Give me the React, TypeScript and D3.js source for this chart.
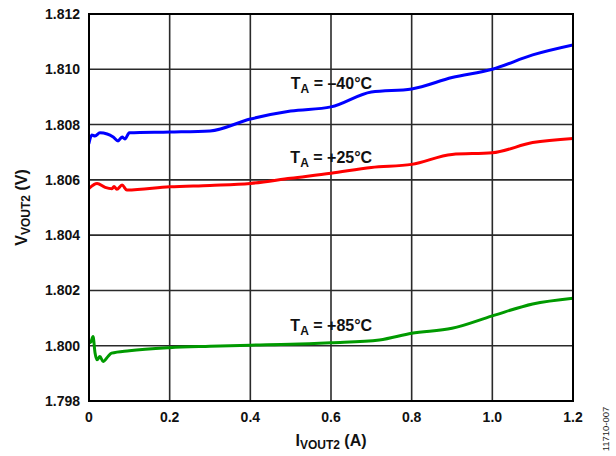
import React from "react";
import * as d3 from "d3";

const xTicks = [0, 0.2, 0.4, 0.6, 0.8, 1.0, 1.2];
const yTicks = [1.798, 1.8, 1.802, 1.804, 1.806, 1.808, 1.81, 1.812];

const blueX = [0, 0.007, 0.015, 0.027, 0.045, 0.06, 0.072, 0.082, 0.089, 0.1, 0.2, 0.3, 0.4, 0.5, 0.6, 0.7, 0.8, 0.9, 1.0, 1.1, 1.2];
const blueY = [1.80733, 1.80762, 1.80759, 1.8077, 1.80766, 1.80755, 1.80741, 1.80755, 1.80748, 1.8077, 1.80773, 1.80777, 1.8082, 1.80849, 1.80864, 1.80918, 1.80929, 1.8097, 1.81, 1.81052, 1.81088];

const redX = [0, 0.02, 0.04, 0.057, 0.062, 0.069, 0.082, 0.094, 0.2, 0.3, 0.4, 0.5, 0.6, 0.7, 0.8, 0.9, 1.0, 1.1, 1.2];
const redY = [1.80569, 1.80587, 1.80573, 1.80568, 1.80576, 1.80566, 1.80581, 1.80563, 1.80575, 1.8058, 1.80587, 1.80606, 1.80624, 1.80645, 1.80656, 1.80692, 1.80698, 1.80735, 1.8075];

const greenX = [0, 0.005, 0.01, 0.015, 0.02, 0.027, 0.035, 0.047, 0.056, 0.1, 0.2, 0.3, 0.4, 0.5, 0.6, 0.72, 0.8, 0.9, 1.0, 1.1, 1.2];
const greenY = [1.8001, 1.80015, 1.80033, 1.79974, 1.79949, 1.79961, 1.79943, 1.79961, 1.79973, 1.79982, 1.79993, 1.79998, 1.80002, 1.80005, 1.80011, 1.80021, 1.80045, 1.80063, 1.80108, 1.80151, 1.80172];

const seriesNames = ["–40°C", "+25°C", "+85°C"];
const seriesColors = ["#0000ff", "#ff0000", "#009a00"];
const labelX = [0.702, 0.702, 0.702];
const labelY = [1.80929, 1.80662, 1.80055];

const W = 616;
const H = 456;
const M = { left: 89, right: 573, top: 14, bottom: 401 };

export default function App() {
  const x = d3.scaleLinear().domain([0, 1.2]).range([M.left, M.right]);
  const y = d3.scaleLinear().domain([1.798, 1.812]).range([M.bottom, M.top]);
  const line = d3
    .line<[number, number]>()
    .x((d) => x(d[0]))
    .y((d) => y(d[1]))
    .curve(d3.curveMonotoneX);

  const series = [
    blueX.map((v, i) => [v, blueY[i]] as [number, number]),
    redX.map((v, i) => [v, redY[i]] as [number, number]),
    greenX.map((v, i) => [v, greenY[i]] as [number, number]),
  ];

  const font = "Arial, 'Liberation Sans', Helvetica, sans-serif";

  return (
    <svg
      width={W}
      height={H}
      style={{ position: "absolute", left: 0, top: 0, background: "#fff" }}
      fontFamily={font}
    >
      <defs>
        <clipPath id="plot">
          <rect x={M.left} y={M.top} width={M.right - M.left} height={M.bottom - M.top} />
        </clipPath>
      </defs>
      {/* grid */}
      {xTicks.map((t) => (
        <line key={"gx" + t} x1={x(t)} x2={x(t)} y1={M.top} y2={M.bottom} stroke="#2a2a2a" strokeWidth={1.6} />
      ))}
      {yTicks.map((t) => (
        <line key={"gy" + t} x1={M.left} x2={M.right} y1={y(t)} y2={y(t)} stroke="#2a2a2a" strokeWidth={1.6} />
      ))}
      {/* series */}
      <g clipPath="url(#plot)">
        {series.map((s, i) => (
          <path key={i} d={line(s) || ""} fill="none" stroke={seriesColors[i]} strokeWidth={3} strokeLinejoin="round" strokeLinecap="round" />
        ))}
      </g>
      {/* frame */}
      <rect x={M.left} y={M.top} width={M.right - M.left} height={M.bottom - M.top} fill="none" stroke="#000" strokeWidth={2} />
      {/* y tick labels */}
      {yTicks.map((t) => (
        <text key={"yl" + t} x={M.left - 9} y={y(t)} dy="0.36em" textAnchor="end" fontSize={14} fontWeight="bold" fill="#111">
          {d3.format(".3f")(t)}
        </text>
      ))}
      {/* x tick labels */}
      {xTicks.map((t) => (
        <text key={"xl" + t} x={x(t)} y={M.bottom + 21} textAnchor="middle" fontSize={14} fontWeight="bold" fill="#111">
          {t === 0 ? "0" : d3.format(".1f")(t)}
        </text>
      ))}
      {/* series labels */}
      {seriesNames.map((n, i) => (
        <text key={"sl" + i} x={x(labelX[i])} y={y(labelY[i])} textAnchor="end" fontSize={16} fontWeight="bold" fill="#111">
          T<tspan fontSize={12} dy={4}>A</tspan>
          <tspan dy={-4}>{" = " + n}</tspan>
        </text>
      ))}
      {/* x axis title */}
      <text x={(M.left + M.right) / 2} y={446} textAnchor="middle" fontSize={16} fontWeight="bold" fill="#111">
        I<tspan fontSize={12} dy={3}>VOUT2</tspan>
        <tspan dy={-3}>{" (A)"}</tspan>
      </text>
      {/* y axis title */}
      <text
        transform={`translate(27, ${(M.top + M.bottom) / 2}) rotate(-90)`}
        textAnchor="middle"
        fontSize={16}
        fontWeight="bold"
        fill="#111"
      >
        V<tspan fontSize={12} dy={3}>VOUT2</tspan>
        <tspan dy={-3}>{" (V)"}</tspan>
      </text>
      {/* figure id */}
      <text transform="translate(609, 429) rotate(-90)" textAnchor="middle" fontSize={9.5} fill="#222">
        11710-007
      </text>
    </svg>
  );
}
